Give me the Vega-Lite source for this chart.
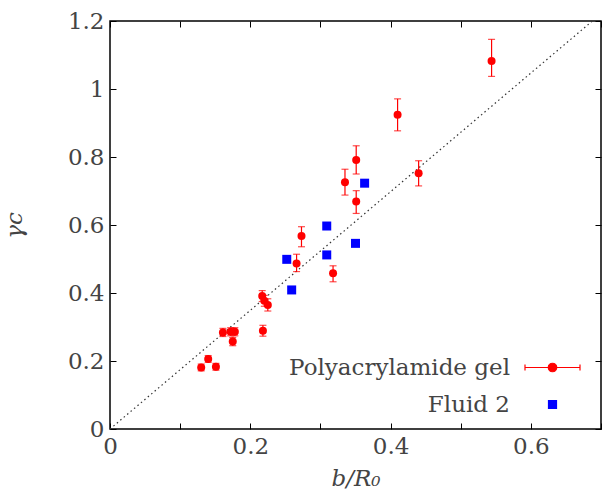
{
  "$schema": "https://vega.github.io/schema/vega-lite/v6.json",
  "autosize": {"type": "none"},
  "width": 491,
  "height": 408,
  "padding": {"left": 110, "top": 21, "right": 8, "bottom": 62},
  "background": "white",
  "config": {
    "view": {"stroke": "#000", "strokeWidth": 1.5},
    "axis": {
      "domain": false,
      "grid": false,
      "tickColor": "#000",
      "tickWidth": 1,
      "tickSize": -6,
      "labelFont": "DejaVu Serif",
      "labelFontSize": 23,
      "labelColor": "#444",
      "titleFont": "DejaVu Serif",
      "titleFontSize": 23,
      "titleFontStyle": "italic",
      "titleFontWeight": "normal",
      "titleColor": "#444",
      "labelFlush": false,
      "labelOverlap": false
    }
  },
  "datasets": {
    "pts": [
      {"series": "Polyacrylamide gel", "x": 0.130, "y": 0.181, "lo": 0.171, "hi": 0.191},
      {"series": "Polyacrylamide gel", "x": 0.140, "y": 0.206, "lo": 0.196, "hi": 0.216},
      {"series": "Polyacrylamide gel", "x": 0.151, "y": 0.183, "lo": 0.173, "hi": 0.193},
      {"series": "Polyacrylamide gel", "x": 0.161, "y": 0.284, "lo": 0.272, "hi": 0.296},
      {"series": "Polyacrylamide gel", "x": 0.172, "y": 0.286, "lo": 0.274, "hi": 0.298},
      {"series": "Polyacrylamide gel", "x": 0.178, "y": 0.286, "lo": 0.274, "hi": 0.298},
      {"series": "Polyacrylamide gel", "x": 0.175, "y": 0.257, "lo": 0.245, "hi": 0.269},
      {"series": "Polyacrylamide gel", "x": 0.217, "y": 0.391, "lo": 0.375, "hi": 0.407},
      {"series": "Polyacrylamide gel", "x": 0.220, "y": 0.377, "lo": 0.361, "hi": 0.393},
      {"series": "Polyacrylamide gel", "x": 0.225, "y": 0.365, "lo": 0.347, "hi": 0.383},
      {"series": "Polyacrylamide gel", "x": 0.218, "y": 0.289, "lo": 0.273, "hi": 0.305},
      {"series": "Polyacrylamide gel", "x": 0.266, "y": 0.487, "lo": 0.463, "hi": 0.514},
      {"series": "Polyacrylamide gel", "x": 0.273, "y": 0.568, "lo": 0.536, "hi": 0.595},
      {"series": "Polyacrylamide gel", "x": 0.318, "y": 0.458, "lo": 0.433, "hi": 0.480},
      {"series": "Polyacrylamide gel", "x": 0.335, "y": 0.726, "lo": 0.688, "hi": 0.764},
      {"series": "Polyacrylamide gel", "x": 0.351, "y": 0.791, "lo": 0.750, "hi": 0.833},
      {"series": "Polyacrylamide gel", "x": 0.351, "y": 0.669, "lo": 0.634, "hi": 0.701},
      {"series": "Polyacrylamide gel", "x": 0.410, "y": 0.924, "lo": 0.877, "hi": 0.971},
      {"series": "Polyacrylamide gel", "x": 0.440, "y": 0.752, "lo": 0.715, "hi": 0.789},
      {"series": "Polyacrylamide gel", "x": 0.544, "y": 1.082, "lo": 1.037, "hi": 1.146},
      {"series": "Fluid 2", "x": 0.252, "y": 0.499},
      {"series": "Fluid 2", "x": 0.259, "y": 0.409},
      {"series": "Fluid 2", "x": 0.309, "y": 0.597},
      {"series": "Fluid 2", "x": 0.309, "y": 0.512},
      {"series": "Fluid 2", "x": 0.350, "y": 0.546},
      {"series": "Fluid 2", "x": 0.363, "y": 0.723}
    ],
    "diag": [
      {"x": 0, "y": 0},
      {"x": 0.6877, "y": 1.2}
    ]
  },
  "layer": [
    {
      "data": {"name": "diag"},
      "mark": {"type": "line", "color": "#333", "strokeWidth": 1.2, "strokeDash": [1.5, 3]},
      "encoding": {
        "x": {"field": "x", "type": "quantitative", "scale": {"domain": [0, 0.7], "nice": false, "zero": false},
          "axis": {"orient": "top", "values": [0, 0.1, 0.2, 0.3, 0.4, 0.5, 0.6, 0.7], "labels": false, "title": null}},
        "y": {"field": "y", "type": "quantitative", "scale": {"domain": [0, 1.2], "nice": false, "zero": false},
          "axis": {"orient": "right", "values": [0, 0.2, 0.4, 0.6, 0.8, 1.0, 1.2], "labels": false, "title": null}}
      }
    },
    {
      "data": {"name": "pts"},
      "transform": [{"filter": "isValid(datum.lo)"}],
      "mark": {"type": "rule", "color": "#f00", "strokeWidth": 1.2},
      "encoding": {
        "x": {"field": "x", "type": "quantitative", "axis": null},
        "y": {"field": "lo", "type": "quantitative", "axis": null},
        "y2": {"field": "hi"}
      }
    },
    {
      "data": {"name": "pts"},
      "transform": [{"filter": "isValid(datum.lo)"}],
      "mark": {"type": "tick", "orient": "horizontal", "color": "#f00", "size": 7, "thickness": 1.2},
      "encoding": {
        "x": {"field": "x", "type": "quantitative", "axis": null},
        "y": {"field": "lo", "type": "quantitative", "axis": null}
      }
    },
    {
      "data": {"name": "pts"},
      "transform": [{"filter": "isValid(datum.lo)"}],
      "mark": {"type": "tick", "orient": "horizontal", "color": "#f00", "size": 7, "thickness": 1.2},
      "encoding": {
        "x": {"field": "x", "type": "quantitative", "axis": null},
        "y": {"field": "hi", "type": "quantitative", "axis": null}
      }
    },
    {
      "data": {"name": "pts"},
      "transform": [{"filter": "datum.series == 'Fluid 2'"}],
      "mark": {"type": "point", "shape": "square", "size": 81, "filled": true, "opacity": 1},
      "encoding": {
        "x": {"field": "x", "type": "quantitative", "axis": null},
        "y": {"field": "y", "type": "quantitative", "axis": null},
        "color": {"field": "series", "type": "nominal"}
      }
    },
    {
      "data": {"name": "pts"},
      "transform": [{"filter": "datum.series != 'Fluid 2'"}],
      "mark": {"type": "point", "shape": "circle", "size": 64, "filled": true, "opacity": 1},
      "encoding": {
        "x": {"field": "x", "type": "quantitative",
          "axis": {"orient": "bottom", "values": [0, 0.1, 0.2, 0.3, 0.4, 0.5, 0.6, 0.7],
            "labelExpr": "round(datum.value*10) % 2 == 0 ? format(datum.value, '~g') : ''",
            "labelPadding": 12, "title": "b/R₀", "titlePadding": 9}},
        "y": {"field": "y", "type": "quantitative",
          "axis": {"orient": "left", "values": [0, 0.2, 0.4, 0.6, 0.8, 1.0, 1.2],
            "labelExpr": "format(datum.value, '~g')",
            "labelPadding": 12, "title": "γc", "titlePadding": 41}},
        "color": {"field": "series", "type": "nominal",
          "scale": {"domain": ["Polyacrylamide gel", "Fluid 2"], "range": ["#ff0000", "#0000ff"]},
          "legend": {
            "orient": "none", "legendX": 431, "legendY": 335, "title": null,
            "labelFont": "DejaVu Serif", "labelFontSize": 23, "labelColor": "#444",
            "labelAlign": "right", "labelOffset": -54, "labelLimit": 0, "symbolSize": 100,
            "rowPadding": 13, "padding": 0, "symbolStrokeWidth": 1.2,
            "symbolType": {"expr": "datum.value == 'Fluid 2' ? 'M-0.8,-0.8H0.8V0.8H-0.8Z' : 'M-5.5,0H5.5M-5.5,-0.6V0.6M5.5,-0.6V0.6M-0.85,0A0.85,0.85 0 1,0 0.85,0A0.85,0.85 0 1,0 -0.85,0Z'"},
            "symbolStrokeColor": {"expr": "datum.value == 'Fluid 2' ? '#0000ff' : '#ff0000'"},
            "symbolFillColor": {"expr": "datum.value == 'Fluid 2' ? '#0000ff' : '#ff0000'"},
            "symbolOpacity": 1
          }}
      }
    }
  ]
}
